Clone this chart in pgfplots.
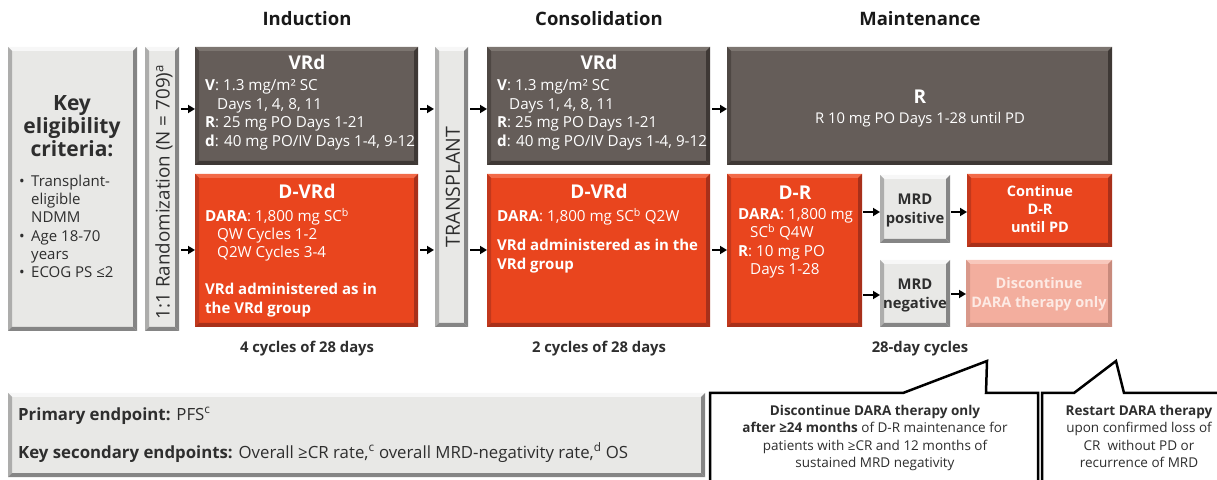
\documentclass[border=0pt]{standalone}
\usepackage{pgfplots}
\pgfplotsset{compat=1.18}
\usepackage{fontspec}
\setmainfont{Open Sans}
\usetikzlibrary{arrows.meta}
\definecolor{dkf}{HTML}{655D59}
\definecolor{dkl}{HTML}{7C7570}
\definecolor{dkd}{HTML}{3E3835}
\definecolor{rdf}{HTML}{E9451E}
\definecolor{rdl}{HTML}{F26A48}
\definecolor{rdd}{HTML}{A8301A}
\definecolor{pkf}{HTML}{F3AE9E}
\definecolor{pkl}{HTML}{F8C8BC}
\definecolor{pkd}{HTML}{C88A7C}
\definecolor{lgf}{HTML}{E8E8E6}
\definecolor{lgl}{HTML}{F7F7F7}
\definecolor{lgd}{HTML}{858585}
\definecolor{txt}{HTML}{2E2E2E}
\definecolor{pktxt}{HTML}{FDEAE4}
\newcommand{\bbox}[7]{%
\fill[#5] (#1,#2) rectangle (#3,#4);
\fill[#6] (#1,#2) -- (#3,#2) -- ({#3-4},{#2+4}) -- ({#1+4},{#2+4}) -- cycle;
\fill[#7!60!#5] (#1,#2) -- ({#1+4},{#2+4}) -- ({#1+4},{#4-4}) -- (#1,#4) -- cycle;
\fill[#7] (#3,#2) -- (#3,#4) -- ({#3-4},{#4-4}) -- ({#3-4},{#2+4}) -- cycle;
\fill[#7] (#1,#4) -- (#3,#4) -- ({#3-4},{#4-4}) -- ({#1+4},{#4-4}) -- cycle;
}
\tikzset{
 hd/.style={anchor=base, inner sep=0, text=black!90, font=\fontsize{18.5bp}{22bp}\selectfont\bfseries},
 ttl/.style={anchor=base, inner sep=0, text=white, font=\fontsize{19bp}{22bp}\selectfont\bfseries},
 wb/.style={anchor=base west, inner sep=0, text=white, font=\fontsize{15.2bp}{18bp}\selectfont},
 wbb/.style={anchor=base west, inner sep=0, text=white, font=\fontsize{15bp}{18bp}\selectfont\bfseries},
 wc/.style={anchor=base, inner sep=0, text=white, font=\fontsize{14.8bp}{18bp}\selectfont},
 wcb/.style={anchor=base, inner sep=0, text=white, font=\fontsize{14.5bp}{18bp}\selectfont\bfseries},
 kc/.style={anchor=base, inner sep=0, text=txt, font=\fontsize{14.8bp}{18bp}\selectfont\bfseries},
 cy/.style={anchor=base, inner sep=0, text=txt, font=\fontsize{14.8bp}{18bp}\selectfont\bfseries},
 bl/.style={anchor=base west, inner sep=0, text=txt, font=\fontsize{15bp}{18bp}\selectfont},
 kt/.style={anchor=base, inner sep=0, text=txt, font=\fontsize{21bp}{24bp}\selectfont\bfseries},
 co/.style={anchor=base, inner sep=0, text=txt, font=\fontsize{13.5bp}{17bp}\selectfont},
 ar/.style={-{Triangle[length=7bp,width=8bp]}, line width=2.2bp, black},
}
\begin{document}
\begin{tikzpicture}
\begin{axis}[hide axis, scale only axis, width=1217bp, height=480bp,
  xmin=0, xmax=1217, ymin=0, ymax=480, y dir=reverse, clip=true]
\addplot[draw=none] coordinates {(0,0) (1217,480)};
% headers
\node[hd] at (307,26) {Induction};
\node[hd] at (599,26) {Consolidation};
\node[hd] at (920,26) {Maintenance};
% key eligibility box
\bbox{8}{47}{137}{331}{lgf}{lgl}{lgd}
\node[kt] at (72,111) {Key};
\node[kt] at (72,134) {eligibility};
\node[kt] at (72,157) {criteria:};
\node[bl] at (19,187) {•};
\node[bl] at (31,187) {Transplant-};
\node[bl] at (31,205) {eligible};
\node[bl] at (31,223) {NDMM};
\node[bl] at (19,242) {•};
\node[bl] at (31,242) {Age 18-70};
\node[bl] at (31,260) {years};
\node[bl] at (19,278) {•};
\node[bl] at (31,278) {ECOG PS ≤2};
% randomization bar
\bbox{145}{47}{179}{331}{lgf}{lgl}{lgd}
\node[rotate=90, inner sep=0, text=txt, font=\fontsize{18.8bp}{22bp}\selectfont] at (164,192) {1:1 Randomization (N = 709)\textsuperscript{a}};
% induction
\bbox{195}{47}{418}{165}{dkf}{dkl}{dkd}
\node[ttl] at (307,70) {VRd};
\node[wb] at (205,91) {\textbf{V}: 1.3 mg/m² SC};
\node[wb] at (217,110) {Days 1, 4, 8, 11};
\node[wb] at (205,128) {\textbf{R}: 25 mg PO Days 1-21};
\node[wb] at (205,147) {\textbf{d}: 40 mg PO/IV Days 1-4, 9-12};
\bbox{195}{174}{418}{327}{rdf}{rdl}{rdd}
\node[ttl] at (307,199) {D-VRd};
\node[wb] at (205,222) {\textbf{DARA}: 1,800 mg SC\textsuperscript{b}};
\node[wb] at (217,240) {QW Cycles 1-2};
\node[wb] at (217,258) {Q2W Cycles 3-4};
\node[wbb] at (205,295) {VRd administered as in};
\node[wbb] at (205,314) {the VRd group};
% transplant bar
\bbox{435}{47}{468}{327}{lgf}{lgl}{lgd}
\node[rotate=90, inner sep=0, text=txt, font=\fontsize{19.5bp}{22bp}\selectfont] at (453,187) {TRANSPLANT};
% consolidation
\bbox{487}{47}{710}{165}{dkf}{dkl}{dkd}
\node[ttl] at (599,70) {VRd};
\node[wb] at (497,91) {\textbf{V}: 1.3 mg/m² SC};
\node[wb] at (509,110) {Days 1, 4, 8, 11};
\node[wb] at (497,128) {\textbf{R}: 25 mg PO Days 1-21};
\node[wb] at (497,147) {\textbf{d}: 40 mg PO/IV Days 1-4, 9-12};
\bbox{487}{174}{710}{327}{rdf}{rdl}{rdd}
\node[ttl] at (599,199) {D-VRd};
\node[wb] at (497,222) {\textbf{DARA}: 1,800 mg SC\textsuperscript{b} Q2W};
\node[wbb] at (497,251) {VRd administered as in the};
\node[wbb] at (497,270) {VRd group};
% maintenance
\bbox{727}{47}{1112}{165}{dkf}{dkl}{dkd}
\node[ttl] at (920,104) {R};
\node[wc] at (920,124) {R 10 mg PO Days 1-28 until PD};
\bbox{727}{174}{862}{327}{rdf}{rdl}{rdd}
\node[ttl] at (795,200) {D-R};
\node[wb] at (738,220) {\textbf{DARA}: 1,800 mg};
\node[wb] at (750,238) {SC\textsuperscript{b} Q4W};
\node[wb] at (738,257) {\textbf{R}: 10 mg PO};
\node[wb] at (750,275) {Days 1-28};
\bbox{880}{175}{950}{243}{lgf}{lgl}{lgd}
\node[kc] at (915,205) {MRD};
\node[kc] at (915,224) {positive};
\bbox{880}{260}{950}{327}{lgf}{lgl}{lgd}
\node[kc] at (915,290) {MRD};
\node[kc] at (915,309) {negative};
\bbox{967}{174}{1112}{247}{rdf}{rdl}{rdd}
\node[wcb] at (1040,197) {Continue};
\node[wcb] at (1040,215) {D-R};
\node[wcb] at (1040,233) {until PD};
\bbox{966}{260}{1112}{327}{pkf}{pkl}{pkd}
\node[wcb, text=pktxt] at (1039,289) {Discontinue};
\node[wcb, text=pktxt] at (1039,308) {DARA therapy only};
% cycles
\node[cy] at (307,353) {4 cycles of 28 days};
\node[cy] at (599,353) {2 cycles of 28 days};
\node[cy] at (920,353) {28-day cycles};
% arrows
\draw[ar] (181,109) -- (195,109);
\draw[ar] (181,250) -- (195,250);
\draw[ar] (420,109) -- (434,109);
\draw[ar] (420,250) -- (434,250);
\draw[ar] (470,109) -- (487,109);
\draw[ar] (470,250) -- (487,250);
\draw[ar] (712,109) -- (727,109);
\draw[ar] (712,250) -- (727,250);
\draw[ar] (863,212) -- (880,212);
\draw[ar] (863,295) -- (880,295);
\draw[ar] (951,212) -- (967,212);
\draw[ar] (951,294) -- (966,294);
% endpoint box
\bbox{8}{393}{705}{477}{lgf}{lgl}{lgd}
\node[anchor=base west, inner sep=0, text=txt, font=\fontsize{16.8bp}{20bp}\selectfont] at (18,420) {\textbf{Primary endpoint:} PFS\textsuperscript{c}};
\node[anchor=base west, inner sep=0, text=txt, font=\fontsize{16.8bp}{20bp}\selectfont] at (18,458) {\textbf{Key secondary endpoints:} Overall ≥CR rate,\textsuperscript{c} overall MRD-negativity rate,\textsuperscript{d} OS};
% callouts
\draw[fill=white, line width=2.5bp, draw=black] (710,495) -- (710,393) -- (903,393) -- (987,361) -- (986,393) -- (1038,393) -- (1038,495) -- cycle;
\draw[fill=white, line width=2.5bp, draw=black] (1042,495) -- (1042,393) -- (1074,393) -- (1116,361) -- (1124,393) -- (1230,393) -- (1230,495) -- cycle;
\node[co] at (875,415) {\textbf{Discontinue DARA therapy only}};
\node[co] at (875,432.5) {\textbf{after ≥24 months} of D-R maintenance for};
\node[co] at (875,450) {patients with ≥CR and 12 months of};
\node[co] at (875,467.5) {sustained MRD negativity};
\node[co] at (1139,415) {\textbf{Restart DARA therapy}};
\node[co] at (1139,432.5) {upon confirmed loss of};
\node[co] at (1139,450) {CR\ \ without PD or};
\node[co] at (1139,467.5) {recurrence of MRD};
\end{axis}
\pgfresetboundingbox
\useasboundingbox (current axis.south west) rectangle (current axis.north east);
\end{tikzpicture}
\end{document}
